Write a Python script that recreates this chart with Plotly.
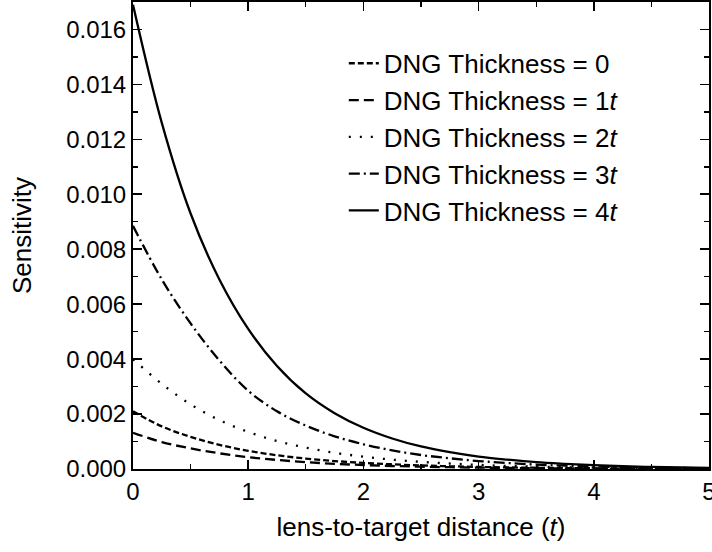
import plotly.graph_objects as go

x_vals = [0, 0.25, 0.5, 0.75, 1.0, 1.25, 1.5, 1.75, 2.0, 2.25, 2.5, 2.75, 3.0,
          3.25, 3.5, 3.75, 4.0, 4.25, 4.5, 4.75, 5.0]

thick0 = [0.00210, 0.00155, 0.00117, 0.00088, 0.00066, 0.00050, 0.00038, 0.00029,
          0.00022, 0.00017, 0.00013, 0.00010, 0.000075, 0.000058, 0.000045,
          0.000034, 0.000026, 0.000020, 0.000015, 0.000012, 0.000009]
thick1 = [0.00132, 0.00098, 0.00075, 0.00057, 0.00043, 0.00033, 0.00025, 0.00019,
          0.000145, 0.00011, 0.000085, 0.000065, 0.000050, 0.000038, 0.000029,
          0.000022, 0.000017, 0.000013, 0.000010, 0.000008, 0.000006]
thick2 = [0.00400, 0.00310, 0.00235, 0.00178, 0.00135, 0.00102, 0.00078, 0.00059,
          0.00045, 0.00034, 0.00026, 0.00020, 0.00015, 0.00011, 0.000085,
          0.000065, 0.000050, 0.000040, 0.000030, 0.000020, 0.000015]
thick3 = [0.00885, 0.00690, 0.00530, 0.00395, 0.00285, 0.00210, 0.00158, 0.00119,
          0.00090, 0.00068, 0.00051, 0.00039, 0.00029, 0.00022, 0.00016,
          0.00012, 0.00009, 0.00007, 0.00005, 0.00004, 0.00003]
thick4 = [0.01690, 0.01260, 0.00930, 0.00690, 0.00510, 0.00375, 0.00275, 0.00203,
          0.00150, 0.00111, 0.00082, 0.00061, 0.00045, 0.00034, 0.00025,
          0.00019, 0.00014, 0.00010, 0.000075, 0.000055, 0.00004]

series_names = ["DNG Thickness = 0", "DNG Thickness = 1<i>t</i>",
                "DNG Thickness = 2<i>t</i>", "DNG Thickness = 3<i>t</i>",
                "DNG Thickness = 4<i>t</i>"]
series_values = [thick0, thick1, thick2, thick3, thick4]
dash_styles = ["6px,3px", "10px,5px", "2px,9px", "11px,4px,2px,4px", "solid"]

x_ticks = [0, 1, 2, 3, 4, 5]
y_ticks = [0.000, 0.002, 0.004, 0.006, 0.008, 0.010, 0.012, 0.014, 0.016]

FONT = "Arial, Liberation Sans, Helvetica, sans-serif"

fig = go.Figure()
for name, vals, dash in zip(series_names, series_values, dash_styles):
    fig.add_trace(go.Scatter(
        x=x_vals, y=vals, mode="lines", name=name,
        line=dict(color="black", width=2.3, dash=dash, shape="spline", smoothing=1.0),
    ))

axis_common = dict(
    showline=True, linecolor="black", linewidth=2, mirror="allticks",
    ticks="inside", ticklen=9, tickwidth=1.6, tickcolor="black",
    showgrid=False, zeroline=False, automargin=False,
    ticklabeloverflow="allow",
    tickfont=dict(family=FONT, size=24, color="black"),
)

fig.update_xaxes(
    range=[0, 5], tickvals=x_ticks, ticktext=[str(v) for v in x_ticks],
    minor=dict(dtick=0.5, ticks="inside", ticklen=5, tickwidth=1.4, tickcolor="black"),
    title=dict(text="lens-to-target distance (<i>t</i>)",
               font=dict(family=FONT, size=26, color="black"), standoff=14),
    **axis_common,
)
fig.update_yaxes(
    range=[0, 0.017], tickvals=y_ticks, ticktext=[f"{v:.3f}" for v in y_ticks],
    minor=dict(dtick=0.001, ticks="inside", ticklen=5, tickwidth=1.4, tickcolor="black"),
    title=dict(text="Sensitivity", font=dict(family=FONT, size=26, color="black"),
               standoff=27),
    **axis_common,
)

fig.update_layout(
    width=712, height=552,
    margin=dict(l=133, r=3, t=2, b=83, autoexpand=False),
    paper_bgcolor="white", plot_bgcolor="white",
    font=dict(family=FONT, color="black"),
    showlegend=True,
    legend=dict(
        x=0.366, y=0.919, xanchor="left", yanchor="top",
        font=dict(family=FONT, size=26, color="black"),
        bgcolor="rgba(0,0,0,0)", borderwidth=0,
        tracegroupgap=0, itemwidth=30,
    ),
)

fig.write_html("out.html", config={"displayModeBar": False, "staticPlot": True},
               post_script="document.body.style.margin='0';")
